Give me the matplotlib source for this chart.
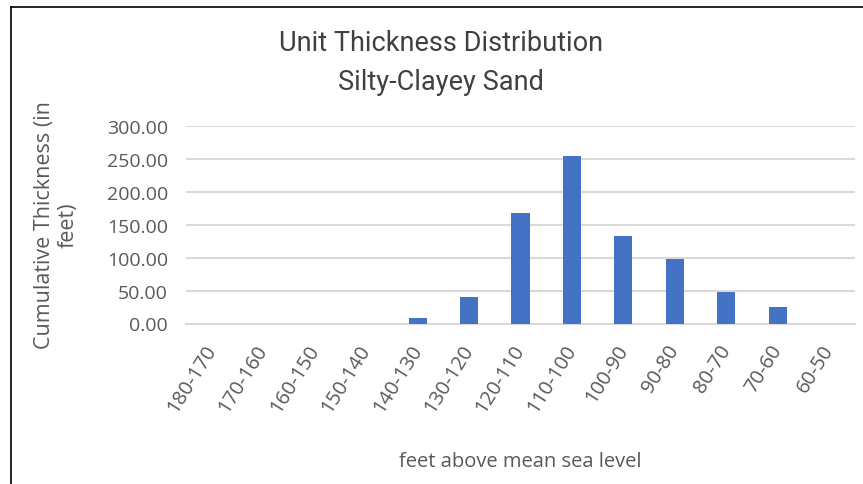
import matplotlib
matplotlib.use("Agg")
import matplotlib.pyplot as plt
from matplotlib.lines import Line2D

categories = ["180-170", "170-160", "160-150", "150-140", "140-130", "130-120",
              "120-110", "110-100", "100-90", "90-80", "80-70", "70-60", "60-50"]
values = [0, 0, 0, 0, 8.5, 39.5, 167.5, 254.5, 132.5, 97.5, 47.5, 24.5, 0]
yticks = [0, 50, 100, 150, 200, 250, 300]

W, H = 863, 485
fig = plt.figure(figsize=(W / 100, H / 100), dpi=100)
fig.patch.set_facecolor("white")

ax = fig.add_axes([186 / W, 1 - 324.5 / H, (855 - 186) / W, (324.5 - 126.7) / H])
x = list(range(len(categories)))
ax.bar(x, values, width=0.35, color="#4472C4", zorder=3)
ax.set_xlim(-0.5, len(categories) - 0.5)
ax.set_ylim(0, 300)
ax.set_yticks(yticks)
ax.set_yticklabels([f"{v:.2f}" for v in yticks], fontsize=14, color="#595959",
                   family="Open Sans")
ax.set_xticks(x)
ax.set_xticklabels(categories, rotation=58, ha="right", va="center",
                   rotation_mode="anchor", fontsize=14.5, color="#595959",
                   family="Open Sans")
ax.tick_params(axis="both", length=0)
ax.tick_params(axis="y", pad=13)
ax.tick_params(axis="x", pad=16)
ax.grid(axis="y", color="#D9D9D9", linewidth=1.5, zorder=0)
for s in ["top", "right", "left"]:
    ax.spines[s].set_visible(False)
ax.spines["bottom"].set_color("#D9D9D9")
ax.spines["bottom"].set_linewidth(1.5)

fig.text(441 / W, 1 - 63 / H, "Unit Thickness Distribution\nSilty-Clayey Sand",
         ha="center", va="center", fontsize=19.5, color="#404040", family="Roboto",
         linespacing=1.55)
fig.text(56 / W, 1 - 225 / H, "Cumulative Thickness (in\nfeet)", rotation=90,
         ha="center", va="center", multialignment="center", fontsize=15.5,
         color="#595959", family="Open Sans", linespacing=1.15)
fig.text(520 / W, 1 - 462 / H, "feet above mean sea level", ha="center",
         va="center", fontsize=14.5, color="#595959", family="Open Sans")

fig.add_artist(Line2D([11 / W, 11 / W], [0, 1 - 8 / H], transform=fig.transFigure,
                      color="black", linewidth=1.2))
fig.add_artist(Line2D([11 / W, 1], [1 - 8 / H, 1 - 8 / H], transform=fig.transFigure,
                      color="black", linewidth=1.2))

fig.savefig("out.png", dpi=100)
